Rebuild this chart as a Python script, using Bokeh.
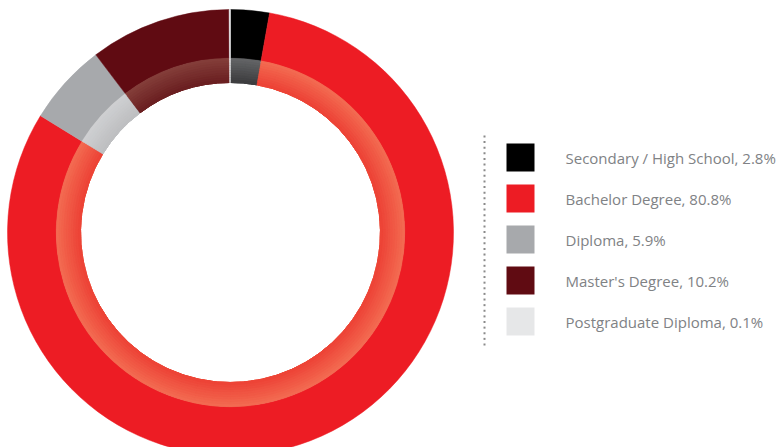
import numpy as np
from bokeh.plotting import figure
from bokeh.models import Range1d, ColumnDataSource
from bokeh.core.properties import value
from bokeh.embed import file_html
from bokeh.resources import INLINE

# ---- data ----
categories = ["Secondary / High School", "Bachelor Degree", "Diploma",
              "Master's Degree", "Postgraduate Diploma"]
percents = [2.8, 80.8, 5.9, 10.2, 0.1]
ring_colors = ["#000000", "#ed1c24", "#a7a9ac", "#600b12", "#e6e7e8"]
band_outer = ["#646567", "#f36c52", "#cfd0d2", "#843f3a", "#eeeeef"]
band_inner = ["#3c3c3e", "#ed4236", "#bdbec0", "#6a1e20", "#e6e7e8"]

W, H = 778, 447
cx, cy = 230, H - 232
R_OUT, R_MID, R_IN = 223, 174, 150

p = figure(width=W, height=H, output_backend="svg", toolbar_location=None,
           x_range=Range1d(0, W), y_range=Range1d(0, H), min_border=0)
p.axis.visible = False
p.grid.visible = False
p.outline_line_color = None
p.background_fill_color = "white"
p.border_fill_color = "white"

vals = np.array(percents, dtype=float)
frac = vals / vals.sum()
cum_end = np.cumsum(frac)
cum_start = cum_end - frac
start = np.pi / 2 - cum_start * 2 * np.pi
end = np.pi / 2 - cum_end * 2 * np.pi

# outer ring
src = ColumnDataSource(dict(start=start, end=end, color=ring_colors))
p.annular_wedge(x=cx, y=cy, inner_radius=R_MID, outer_radius=R_OUT,
                inner_radius_units="screen", outer_radius_units="screen",
                start_angle="start", end_angle="end", direction="clock",
                fill_color="color", line_color="color", line_width=0.5, source=src)


def hex2rgb(h):
    h = h.lstrip("#")
    return np.array([int(h[i:i + 2], 16) for i in (0, 2, 4)], dtype=float)


def rgb2hex(c):
    return "#%02x%02x%02x" % tuple(int(round(v)) for v in c)


# inner gradient band: overlapping layers drawn outer -> inner (no seams)
N = 10
edges = np.linspace(R_IN, R_MID, N + 1)
for k in range(N - 1, -1, -1):
    t = (k + 0.5) / N  # 0 = inner, 1 = outer
    cols = [rgb2hex(hex2rgb(a) * (1 - t) + hex2rgb(b) * t)
            for a, b in zip(band_inner, band_outer)]
    s = ColumnDataSource(dict(start=start, end=end, color=cols))
    p.annular_wedge(x=cx, y=cy, inner_radius=R_IN, outer_radius=edges[k + 1] + (0.4 if k == N - 1 else 0),
                    inner_radius_units="screen", outer_radius_units="screen",
                    start_angle="start", end_angle="end", direction="clock",
                    fill_color="color", line_color="color", line_width=0.3, source=s)

# dotted separator
dots_y = H - np.linspace(136, 344, 38)
p.scatter(x=np.full(len(dots_y), 484.0), y=dots_y, marker="square", size=2,
          fill_color="#8a8a8a", line_color=None)

# legend
n = len(categories)
ly = [H - (157 + 41 * i) for i in range(n)]
p.rect(x=[520] * n, y=ly, width=28, height=28, fill_color=ring_colors, line_color=None)
labels = [f"{c}, {v}%" for c, v in zip(categories, percents)]
p.text(x=[565] * n, y=ly, text=labels, text_baseline="middle", text_align="left",
       text_font=value("Open Sans"), text_font_size="15px", text_color="#808285",
       text_font_style="normal")

open("out.html", "w").write(file_html(p, INLINE))
